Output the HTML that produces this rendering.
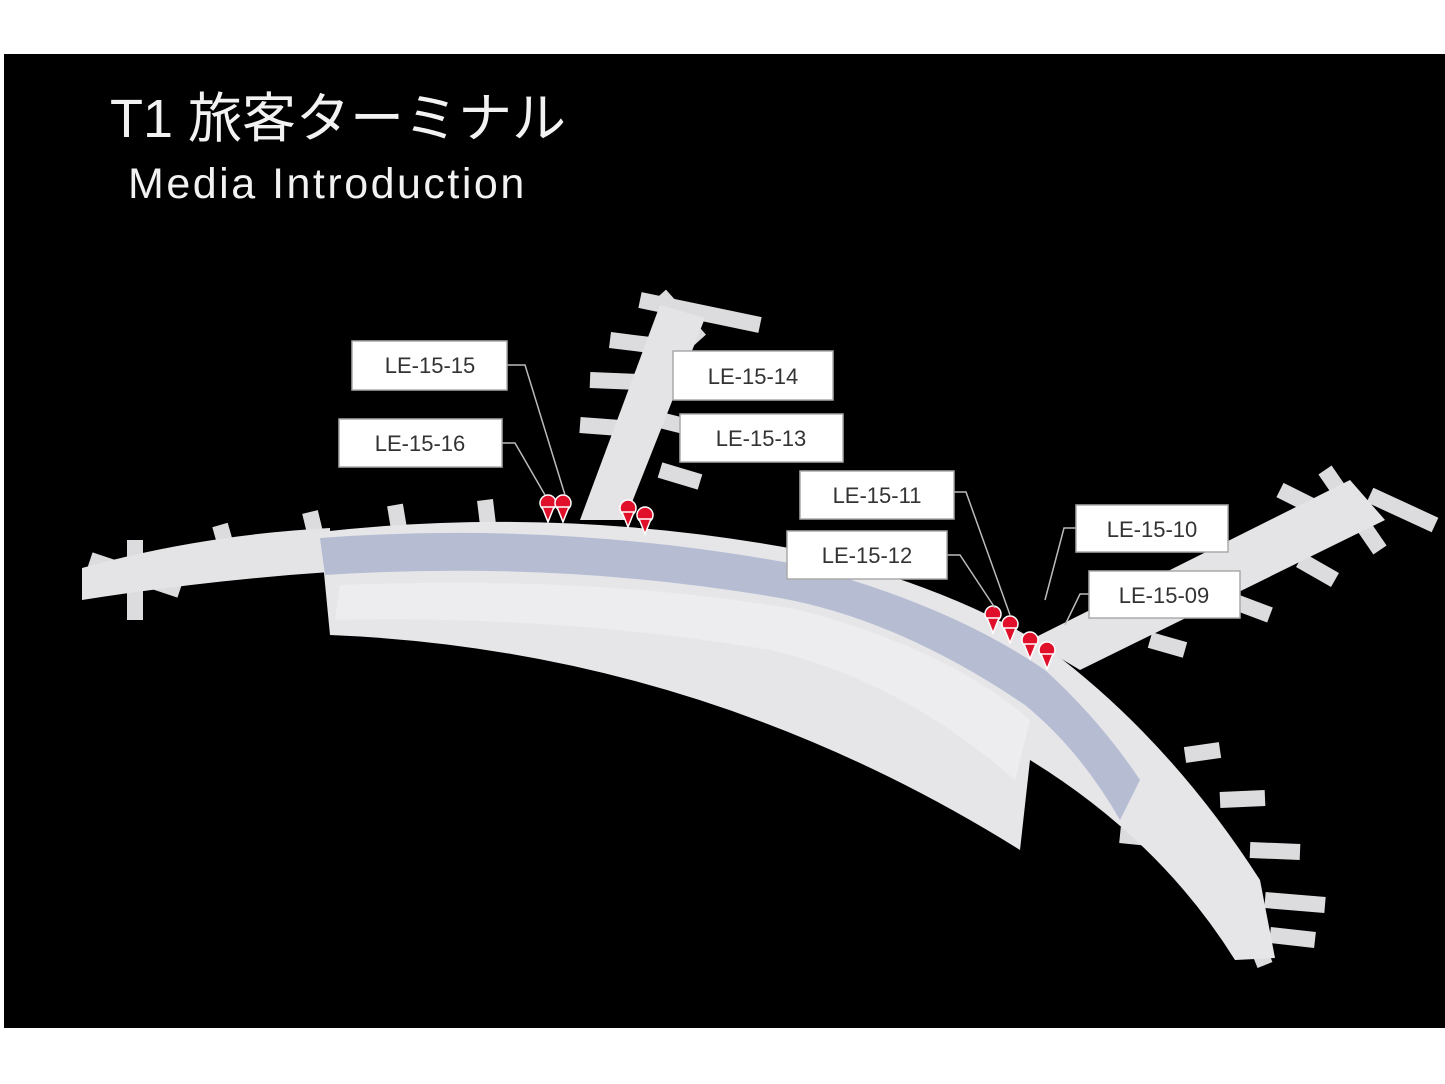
<!DOCTYPE html>
<html><head><meta charset="utf-8"><style>
html,body{margin:0;padding:0;background:#fff;width:1445px;height:1084px;overflow:hidden}
svg{display:block}
</style></head><body>
<svg width="1445" height="1084" viewBox="0 0 1445 1084" xmlns="http://www.w3.org/2000/svg">
<rect x="0" y="0" width="1445" height="1084" fill="#fff"/>
<rect x="4" y="54" width="1441" height="974" fill="#000"/>
<text x="110" y="137" font-family="Liberation Sans, 'Noto Sans CJK JP', sans-serif" font-size="54" fill="#f2f2f2">T1 旅客ターミナル</text>
<text x="128" y="198" font-family="Liberation Sans, 'Noto Sans CJK JP', sans-serif" font-size="43" letter-spacing="2.5" fill="#f2f2f2">Media Introduction</text>

<g stroke="#dcdcdf" stroke-width="16" stroke-linecap="butt">
<line x1="135" y1="540" x2="135" y2="620"/><line x1="90" y1="560" x2="180" y2="590"/>
<line x1="220" y1="525" x2="230" y2="560"/><line x1="310" y1="512" x2="318" y2="545"/>
<line x1="395" y1="505" x2="400" y2="535"/><line x1="485" y1="500" x2="488" y2="525"/>
<line x1="640" y1="300" x2="760" y2="325"/><line x1="660" y1="295" x2="700" y2="340"/>
<line x1="610" y1="340" x2="650" y2="345"/><line x1="590" y1="380" x2="640" y2="382"/>
<line x1="580" y1="425" x2="620" y2="428"/><line x1="660" y1="470" x2="700" y2="482"/>
<line x1="660" y1="420" x2="700" y2="430"/>
<line x1="1280" y1="490" x2="1340" y2="520"/><line x1="1325" y1="470" x2="1380" y2="550"/>
<line x1="1370" y1="495" x2="1435" y2="525"/><line x1="1300" y1="560" x2="1335" y2="580"/>
<line x1="1230" y1="600" x2="1270" y2="615"/><line x1="1150" y1="640" x2="1185" y2="650"/>
<line x1="1185" y1="755" x2="1220" y2="750"/><line x1="1220" y1="800" x2="1265" y2="798"/>
<line x1="1250" y1="850" x2="1300" y2="852"/><line x1="1265" y1="900" x2="1325" y2="905"/>
<line x1="1270" y1="935" x2="1315" y2="940"/><line x1="1255" y1="940" x2="1265" y2="965"/>
<line x1="1120" y1="835" x2="1150" y2="838"/>
</g>

<path d="M82,568 Q200,535 330,528 L330,572 Q210,580 82,600 Z" fill="#e4e4e7"/>
<path d="M660,305 L705,318 L625,520 L580,520 Z" fill="#e4e4e7"/>
<path d="M1030,640 L1350,480 L1385,520 L1080,670 Z" fill="#e4e4e7"/>
<path d="M320,532 Q560,505 800,550 Q960,590 1050,650 Q1170,740 1260,880 L1275,958 L1235,960 Q1160,840 1030,760 L1020,850 Q700,650 330,635 Z" fill="#e6e6e9"/>
<path d="M320,538 Q560,520 800,565 Q950,605 1045,670 Q1100,720 1140,780 L1120,820 Q1080,750 1025,705 Q900,620 780,598 Q560,560 325,575 Z" fill="#b6bdd3"/>
<path d="M340,585 Q600,575 800,610 Q950,650 1030,720 L1015,780 Q900,680 770,650 Q560,615 335,620 Z" fill="#ededf0"/>

<g fill="#e0102a" stroke="#fff" stroke-width="1.5">
<circle cx="548" cy="503" r="8"/><path d="M542,507 L548,522 L554,507 Z"/>
<circle cx="563" cy="503" r="8"/><path d="M557,507 L563,522 L569,507 Z"/>
<circle cx="628" cy="508" r="8"/><path d="M622,512 L628,527 L634,512 Z"/>
<circle cx="645" cy="515" r="8"/><path d="M639,519 L645,534 L651,519 Z"/>
<circle cx="993" cy="614" r="8"/><path d="M987,618 L993,633 L999,618 Z"/>
<circle cx="1010" cy="624" r="8"/><path d="M1004,628 L1010,643 L1016,628 Z"/>
<circle cx="1030" cy="640" r="8"/><path d="M1024,644 L1030,659 L1036,644 Z"/>
<circle cx="1047" cy="650" r="8"/><path d="M1041,654 L1047,669 L1053,654 Z"/>
</g>

<g stroke="#bbb" stroke-width="1.5" fill="none">
<polyline points="507,365 525,365 565,495"/>
<polyline points="502,443 515,443 545,495"/>
<polyline points="954,492 966,492 1010,615"/>
<polyline points="947,555 960,555 995,608"/>
<polyline points="1076,528 1064,528 1045,600"/>
<polyline points="1089,594 1080,594 1065,625"/>
</g>

<g font-family="Liberation Sans, sans-serif" font-size="22" fill="#333" text-anchor="middle">
<g stroke="#aaa" stroke-width="1.5" fill="#fff">
<rect x="352" y="341" width="155" height="49"/>
<rect x="339" y="419" width="163" height="48"/>
<rect x="673" y="351" width="160" height="49"/>
<rect x="680" y="414" width="163" height="48"/>
<rect x="800" y="471" width="154" height="48"/>
<rect x="787" y="531" width="160" height="48"/>
<rect x="1076" y="505" width="152" height="47"/>
<rect x="1089" y="571" width="151" height="47"/>
</g>
<text x="430" y="373">LE-15-15</text>
<text x="420" y="451">LE-15-16</text>
<text x="753" y="384">LE-15-14</text>
<text x="761" y="446">LE-15-13</text>
<text x="877" y="503">LE-15-11</text>
<text x="867" y="563">LE-15-12</text>
<text x="1152" y="537">LE-15-10</text>
<text x="1164" y="603">LE-15-09</text>
</g>
</svg>
</body></html>
